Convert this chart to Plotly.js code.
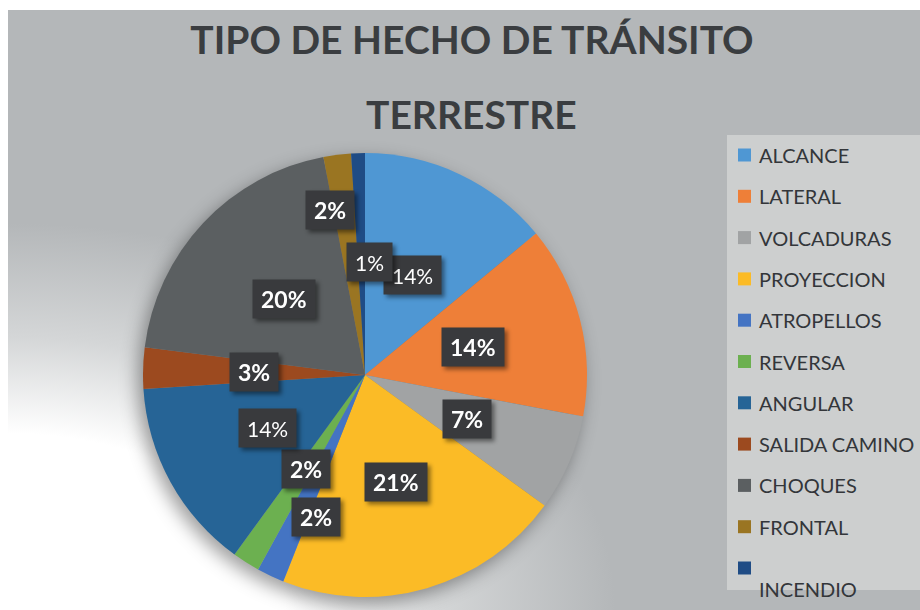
<!DOCTYPE html>
<html>
<head>
<meta charset="utf-8">
<script src="https://cdn.plot.ly/plotly-3.0.1.min.js"></script>
<style>
  html, body { margin: 0; padding: 0; background: #ffffff; }
  #wrap { position: relative; width: 920px; height: 610px; overflow: hidden; background: #ffffff; }
  #bg { position: absolute; left: 8px; top: 10px; width: 912px; height: 600px;
        background: radial-gradient(ellipse 660px 420px at 0% 100%, #ffffff 0%, #ffffff 42%, #d4d6d7 65%, #b4b7b9 92%); }
  #chart { position: absolute; left: 0; top: 0; width: 920px; height: 610px; }
  .pielayer { filter: drop-shadow(-5px 7px 9px rgba(0,0,0,0.38)); }
  .lblshadow { filter: drop-shadow(3px 3px 2px rgba(0,0,0,0.45)); }
</style>
</head>
<body>
<div id="wrap"><div id="bg"></div><div id="chart"></div></div>
<script>
// ---- data ----
const labels = ["ALCANCE", "LATERAL", "VOLCADURAS", "PROYECCION", "ATROPELLOS", "REVERSA",
                "ANGULAR", "SALIDA CAMINO", "CHOQUES", "FRONTAL", "INCENDIO"];
const values = [14, 14, 7, 21, 2, 2, 14, 3, 20, 2, 1];
const colors = ["#4f97d3", "#ee7f38", "#a1a3a4", "#fbbb26", "#4474c3", "#6cb050",
                "#266496", "#9c4a1f", "#5b5f61", "#9a7522", "#1f4c85"];
const titleLine1 = "TIPO DE HECHO DE TRÁNSITO";
const titleLine2 = "TERRESTRE";

// ---- style (label placement / look) ----
const labelRadius = [0.5, 0.5, 0.5, 0.5, 0.675, 0.5, 0.5, 0.5, 0.5, 0.76, 0.51];
const labelAngleShift = [0, 0, 0, 0, -6.3, 0, 0, 0, 0, -4.8, 4.3];
const labelBold = [false, true, true, true, true, true, false, true, true, true, false];
const legendTextDy = [0, 0, 0, 0, 0, 0, 0, 0, 0, 0, 21];
const titleFont = { family: 'Lato, sans-serif', size: 39, color: '#3a3d40', weight: 700 };

const W = 920, H = 610;
const dom = { x: [143 / W, 587 / W], y: [13 / H, 457 / H] };
const cx = (dom.x[0] + dom.x[1]) / 2 * W;
const cy = H - (dom.y[0] + dom.y[1]) / 2 * H;
const R = Math.min((dom.x[1] - dom.x[0]) * W, (dom.y[1] - dom.y[0]) * H) / 2;

const total = values.reduce((a, b) => a + b, 0);
const annotations = [];
const shapes = [];
let cum = 0;
values.forEach((v, i) => {
  const mid = ((cum + v / 2) / total * 360 + labelAngleShift[i]) * Math.PI / 180;
  cum += v;
  const r = labelRadius[i] * R;
  const px = cx + r * Math.sin(mid);
  const py = cy - r * Math.cos(mid);
  annotations.push({
    x: px / W, y: 1 - py / H, xref: 'paper', yref: 'paper',
    xanchor: 'center', yanchor: 'middle', showarrow: false,
    text: Math.round(v / total * 100) + '%',
    font: { family: 'Lato, sans-serif', size: labelBold[i] ? 23 : 21, color: '#ffffff', weight: labelBold[i] ? 700 : 400 },
    bgcolor: '#393a3d', borderpad: 8, height: 22
  });
});
const nLabelAnn = annotations.length;

// legend (drawn manually)
const lgTop = 135, lgBottom = 590, lgLeft = 727;
shapes.push({ type: 'rect', xref: 'paper', yref: 'paper', x0: lgLeft / W, x1: 1.01,
  y0: 1 - lgBottom / H, y1: 1 - lgTop / H, fillcolor: '#cdcfcf', line: { width: 0 }, layer: 'below' });
labels.forEach((lab, i) => {
  const rowY = 155 + 41.3 * i;
  shapes.push({ type: 'rect', xref: 'paper', yref: 'paper',
    x0: 738 / W, x1: 751 / W, y0: 1 - (rowY + 6.5) / H, y1: 1 - (rowY - 6.5) / H,
    fillcolor: colors[i], line: { width: 0 } });
  annotations.push({
    x: 757 / W, y: 1 - (rowY + legendTextDy[i]) / H, xref: 'paper', yref: 'paper',
    xanchor: 'left', yanchor: 'middle', showarrow: false, text: lab,
    font: { family: 'Lato, sans-serif', size: 20, color: '#33363a' }
  });
});

// second title line
annotations.push({
  x: 471 / W, y: 1 - 114 / H, xref: 'paper', yref: 'paper', xanchor: 'center', yanchor: 'middle',
  showarrow: false, text: titleLine2, font: titleFont
});

const trace = {
  type: 'pie', labels: labels, values: values, sort: false, direction: 'clockwise', rotation: 0,
  marker: { colors: colors, line: { width: 0 } }, textinfo: 'none', hoverinfo: 'none',
  showlegend: false, domain: dom
};

const layout = {
  width: W, height: H, margin: { l: 0, r: 0, t: 0, b: 0 },
  paper_bgcolor: 'rgba(0,0,0,0)', plot_bgcolor: 'rgba(0,0,0,0)',
  title: { text: titleLine1, x: 472 / W, xanchor: 'center', y: 1 - 40 / H, yanchor: 'middle', font: titleFont },
  showlegend: false, annotations: annotations, shapes: shapes
};

Plotly.newPlot('chart', [trace], layout, { displayModeBar: false, staticPlot: true }).then(() => {
  document.querySelectorAll('#chart g.annotation').forEach(g => {
    const idx = +g.getAttribute('data-index');
    if (idx < nLabelAnn) g.classList.add('lblshadow');
  });
});
</script>
</body>
</html>
